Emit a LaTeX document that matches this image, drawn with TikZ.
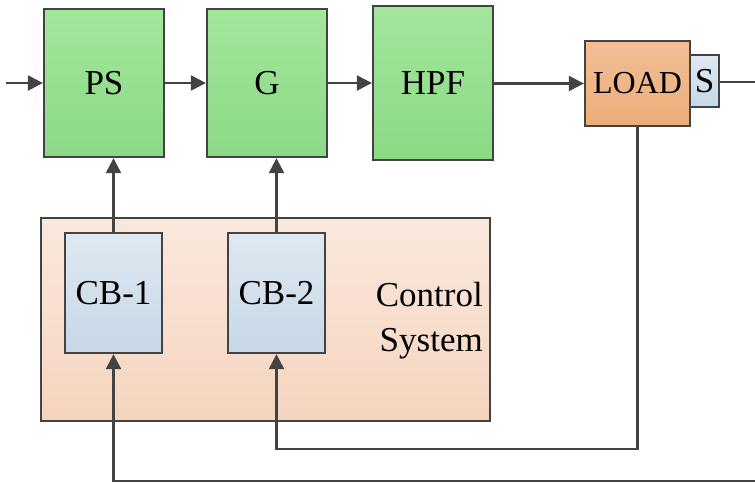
\documentclass[tikz,border=0pt]{standalone}
\usepackage{fontspec}
\setmainfont{Liberation Serif}
\usetikzlibrary{arrows.meta}

\definecolor{linegray}{HTML}{434343}
\definecolor{greentop}{HTML}{A3E69C}
\definecolor{greenbot}{HTML}{8BD985}
\definecolor{orangetop}{HTML}{F2BE96}
\definecolor{orangebot}{HTML}{ECAE78}
\definecolor{bluetop}{HTML}{DFE8F1}
\definecolor{bluebot}{HTML}{C6D7E7}
\definecolor{peachtop}{HTML}{FAE8DD}
\definecolor{peachbot}{HTML}{F5D4BE}

\tikzset{
  box/.style={draw=linegray,line width=2.3pt,inner sep=0pt,
    font=\fontsize{35}{35}\selectfont},
  greenbox/.style={box,top color=greentop,bottom color=greenbot,
    minimum width=120pt,minimum height=148pt},
  bluebox/.style={box,top color=bluetop,bottom color=bluebot},
  conn/.style={draw=linegray,line width=2.3pt,
    -{Triangle[length=15pt,width=15pt]}},
  wire/.style={draw=linegray,line width=2.3pt}
}

\begin{document}
\begin{tikzpicture}[x=1pt,y=-1pt]
      \useasboundingbox (0,0) rectangle (755,482);

      % forward path
      \node[greenbox] (ps) at (104,83) {PS};
      \node[greenbox] (g) at (267,83) {G};
      \node[greenbox,minimum height=154pt] (hpf) at (433,83) {HPF};
      \node[box,top color=orangetop,bottom color=orangebot,
        minimum width=105pt,minimum height=85pt,
        font=\fontsize{32}{32}\selectfont] (load) at (637.5,83.5) {LOAD};
      \node[bluebox,minimum width=29pt,minimum height=52pt] (s) at (704.5,81) {S};

      % control system
      \node[box,top color=peachtop,bottom color=peachbot,
        minimum width=449pt,minimum height=203pt] (ctrl) at (265.5,319.5) {};
      \node[bluebox,minimum width=97pt,minimum height=120pt] (cb1) at (113.5,293) {CB-1};
      \node[bluebox,minimum width=97pt,minimum height=120pt] (cb2) at (276.5,293) {CB-2};
      \node[anchor=east,align=right,inner sep=0pt,
        font=\fontsize{35}{45}\selectfont] (ctrltxt) at (483,321) {Control\\System};

      \coordinate (in) at (6,83);
      \coordinate (out) at (755,82);
      \coordinate (fbin) at (755,481);

      \draw[conn] (in) -- (ps.west);
      \draw[conn] (ps.east) -- (g.west);
      \draw[conn] (g.east) -- (g.east -| hpf.west);
      \draw[conn] (hpf.east |- load.west) -- (load.west);
      \draw[wire] (s.east |- out) -- (out);

      \draw[conn] (cb1.north) -- (cb1.north |- ps.south);
      \draw[conn] (cb2.north) -- (cb2.north |- g.south);

      % feedback
      \draw[conn] (load.south) -- ++(0,322) -| (cb2.south);
      \draw[conn] (fbin) -| (cb1.south);
    \end{tikzpicture}
\end{document}
